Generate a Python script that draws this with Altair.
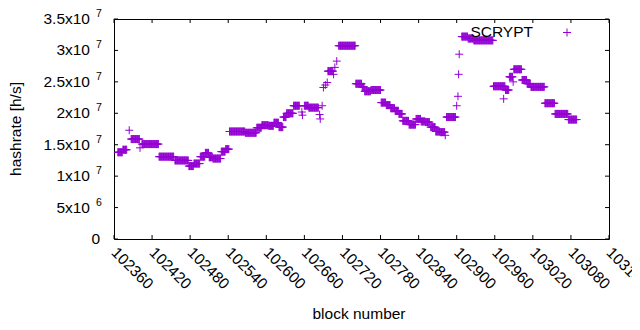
import altair as alt
import pandas as pd

# --- data -------------------------------------------------------------
# constant-hashrate runs: first block, last block, hashrate (h/s)
seg_first = [102366, 102374, 102387, 102404, 102431, 102456, 102478, 102486,
             102496, 102504, 102510, 102516, 102529, 102536, 102542, 102567,
             102585, 102593, 102604, 102612, 102620, 102627, 102632, 102643,
             102660, 102667, 102697, 102714, 102741, 102751, 102755, 102765,
             102781, 102789, 102796, 102803, 102809, 102815, 102825, 102836,
             102844, 102851, 102859, 102867, 102874, 102884, 102908, 102918,
             102927, 102958, 102977, 102983, 102990, 103003, 103011, 103017,
             103039, 103055, 103076]
seg_last = [102373, 102380, 102400, 102430, 102454, 102477, 102485, 102495,
            102503, 102509, 102515, 102528, 102535, 102541, 102566, 102584,
            102592, 102603, 102611, 102619, 102626, 102631, 102642, 102652,
            102666, 102682, 102705, 102740, 102750, 102754, 102764, 102780,
            102788, 102795, 102802, 102808, 102814, 102824, 102835, 102843,
            102850, 102857, 102866, 102873, 102881, 102898, 102917, 102926,
            102957, 102976, 102982, 102988, 103002, 103010, 103016, 103038,
            103054, 103075, 103089]
seg_rate = [13.8e6, 14.2e6, 15.9e6, 15.1e6, 13.1e6, 12.5e6, 11.6e6, 12.0e6,
            13.1e6, 13.7e6, 13.0e6, 12.8e6, 13.9e6, 14.3e6, 17.1e6, 16.9e6,
            17.7e6, 18.1e6, 18.0e6, 18.5e6, 17.8e6, 19.4e6, 20.0e6, 21.2e6,
            21.2e6, 20.9e6, 26.7e6, 30.75e6, 24.7e6, 24.2e6, 23.5e6, 23.7e6,
            21.7e6, 21.3e6, 20.8e6, 20.4e6, 19.9e6, 18.8e6, 18.2e6, 19.1e6,
            18.7e6, 18.6e6, 17.8e6, 17.1e6, 17.0e6, 19.4e6, 32.2e6, 31.9e6,
            31.6e6, 24.3e6, 23.7e6, 25.8e6, 27.0e6, 25.3e6, 24.7e6, 24.2e6,
            21.6e6, 19.9e6, 19.0e6]

# isolated blocks
pt_block = [102384, 102401, 102656, 102657, 102684, 102685, 102688, 102690,
            102693, 102696, 102706, 102708, 102711, 102882, 102900, 102902,
            102903, 102904, 102974, 102989]
pt_rate = [17.3e6, 14.5e6, 20.2e6, 19.7e6, 19.8e6, 19.1e6, 21.2e6, 24.1e6,
           24.5e6, 24.9e6, 26.2e6, 27.3e6, 28.3e6, 16.5e6, 21.2e6, 22.7e6,
           26.2e6, 29.4e6, 22.3e6, 25.0e6]

x_ticks = [102360, 102420, 102480, 102540, 102600, 102660, 102720, 102780,
           102840, 102900, 102960, 103020, 103080, 103140]
y_ticks = [0, 5e6, 1e7, 1.5e7, 2e7, 2.5e7, 3e7, 3.5e7]
y_mant = ["0", "5x10", "1x10", "1.5x10", "2x10", "2.5x10", "3x10", "3.5x10"]
y_exp = ["", "6", "7", "7", "7", "7", "7", "7"]

# --- tables -------------------------------------------------------------
rows = []
for a, b, r in zip(seg_first, seg_last, seg_rate):
    for blk in range(a, b + 1):
        rows.append({"block": blk, "rate": r})
for blk, r in zip(pt_block, pt_rate):
    rows.append({"block": blk, "rate": r})
pts = pd.DataFrame(rows)
xt = pd.DataFrame({"v": x_ticks, "lab": [str(v) for v in x_ticks]})
yt = pd.DataFrame({"v": y_ticks, "m": y_mant, "e": y_exp})

FONT = "Liberation Sans"
FS = 15.5
COL = "#9400D3"
PLUS = "M-1,0L1,0M0,-1L0,1"
W, H = 495, 220

xs = alt.Scale(domain=[102360, 103140], nice=False, zero=False)
ys = alt.Scale(domain=[0, 3.5e7], nice=False)

points = alt.Chart(pts).mark_point(
    shape=PLUS, filled=False, size=64, strokeWidth=1, color=COL, opacity=1
).encode(
    x=alt.X("block:Q", scale=xs, axis=None),
    y=alt.Y("rate:Q", scale=ys, axis=None),
)

tick_bot = alt.Chart(xt).mark_rule(color="black", strokeWidth=1).encode(
    x=alt.X("v:Q", scale=xs, axis=None), y=alt.value(H), y2=alt.value(H - 4))
tick_top = alt.Chart(xt).mark_rule(color="black", strokeWidth=1).encode(
    x=alt.X("v:Q", scale=xs, axis=None), y=alt.value(0), y2=alt.value(4))
tick_l = alt.Chart(yt).mark_rule(color="black", strokeWidth=1).encode(
    y=alt.Y("v:Q", scale=ys, axis=None), x=alt.value(0), x2=alt.value(4))
tick_r = alt.Chart(yt).mark_rule(color="black", strokeWidth=1).encode(
    y=alt.Y("v:Q", scale=ys, axis=None), x=alt.value(W), x2=alt.value(W - 4))

xlab = alt.Chart(xt).mark_text(
    align="left", baseline="middle", font=FONT, fontSize=FS, color="black", angle=45
).encode(x=alt.X("v:Q", scale=xs, axis=None), y=alt.value(H + 11), text="lab:N")

ylab_m = alt.Chart(yt).transform_filter("datum.e != ''").mark_text(
    align="right", baseline="middle", font=FONT, fontSize=FS, color="black"
).encode(y=alt.Y("v:Q", scale=ys, axis=None), x=alt.value(-24), text="m:N")
ylab_e = alt.Chart(yt).transform_filter("datum.e != ''").mark_text(
    align="left", baseline="middle", font=FONT, fontSize=10.5, color="black", dy=-5
).encode(y=alt.Y("v:Q", scale=ys, axis=None), x=alt.value(-18), text="e:N")
ylab_0 = alt.Chart(yt).transform_filter("datum.e == ''").mark_text(
    align="right", baseline="middle", font=FONT, fontSize=FS, color="black"
).encode(y=alt.Y("v:Q", scale=ys, axis=None), x=alt.value(-14), text="m:N")

xtitle = alt.Chart(pd.DataFrame({"t": ["block number"]})).mark_text(
    align="center", baseline="middle", font=FONT, fontSize=FS, color="black"
).encode(x=alt.value(245), y=alt.value(295), text="t:N")
ytitle = alt.Chart(pd.DataFrame({"t": ["hashrate [h/s]"]})).mark_text(
    align="center", baseline="middle", font=FONT, fontSize=FS, color="black", angle=270
).encode(x=alt.value(-98), y=alt.value(110), text="t:N")

key_text = alt.Chart(pd.DataFrame({"t": ["SCRYPT"]})).mark_text(
    align="right", baseline="middle", font=FONT, fontSize=FS, color="black"
).encode(x=alt.value(419), y=alt.value(13), text="t:N")
key_sym = alt.Chart(pd.DataFrame({"t": ["SCRYPT"]})).mark_point(
    shape=PLUS, filled=False, size=64, strokeWidth=1, color=COL, opacity=1
).encode(x=alt.value(453), y=alt.value(13.5))

chart = alt.layer(
    points, tick_bot, tick_top, tick_l, tick_r, xlab, ylab_m, ylab_e, ylab_0,
    xtitle, ytitle, key_text, key_sym
).properties(
    width=W, height=H,
    autosize=alt.AutoSizeParams(type="none"),
    padding={"left": 106, "top": 11, "right": 23, "bottom": 83},
).configure_view(stroke="black", strokeWidth=1)

chart.save("out.html", embed_options={"renderer": "svg", "actions": False})
